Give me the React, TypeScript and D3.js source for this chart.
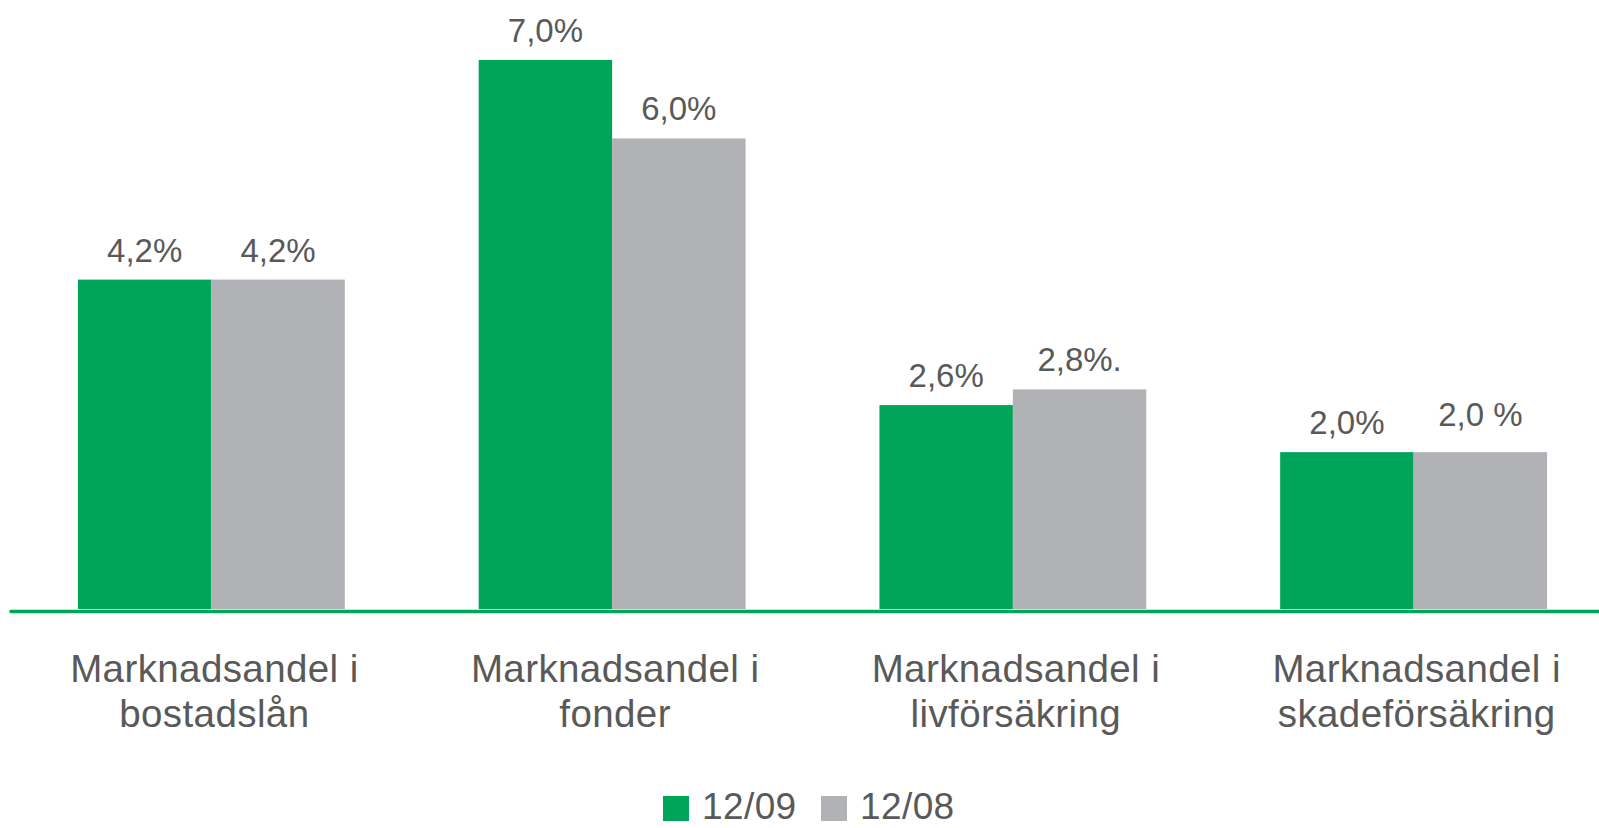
import React, { useRef, useEffect } from "react";
import * as d3 from "d3";

const categories = [
  ["Marknadsandel i", "bostadslån"],
  ["Marknadsandel i", "fonder"],
  ["Marknadsandel i", "livförsäkring"],
  ["Marknadsandel i", "skadeförsäkring"],
];
const seriesNames = ["12/09", "12/08"];
const values0912 = [4.2, 7.0, 2.6, 2.0];
const values0812 = [4.2, 6.0, 2.8, 2.0];
const labels0912 = ["4,2%", "7,0%", "2,6%", "2,0%"];
const labels0812 = ["4,2%", "6,0%", "2,8%.", "2,0 %"];

// small hand nudges the original had on a couple of labels
const labelLift: Record<string, number> = { "2,0 %": 8 };

const colors = ["#00a55a", "#b1b2b5"];
const textColor = "#595959";
const font = "'Liberation Sans', Arial, Helvetica, sans-serif";

const App = () => {
  const svgRef = useRef<SVGSVGElement>(null);

  useEffect(() => {
    const svg = d3.select(svgRef.current);
    svg.selectAll("*").remove();

    const width = 1599;
    const height = 828;
    const baseY = 609;

    const x0 = d3.scaleBand<number>()
      .domain(d3.range(categories.length))
      .range([11, 1614])
      .paddingInner(0.334)
      .paddingOuter(0.167);

    const x1 = d3.scaleBand<number>()
      .domain([0, 1])
      .range([0, x0.bandwidth()]);

    const y = d3.scaleLinear().domain([0, 7]).range([baseY, 60]);

    const series = [
      { name: seriesNames[0], values: values0912, labels: labels0912, color: colors[0] },
      { name: seriesNames[1], values: values0812, labels: labels0812, color: colors[1] },
    ];

    svg.attr("width", width).attr("height", height);

    series.forEach((s, si) => {
      const g = svg.append("g");
      g.selectAll("rect")
        .data(s.values)
        .join("rect")
        .attr("x", (_, i) => x0(i)! + x1(si)!)
        .attr("y", d => y(d))
        .attr("width", x1.bandwidth())
        .attr("height", d => baseY - y(d))
        .attr("fill", s.color);

      g.selectAll("text")
        .data(s.values)
        .join("text")
        .attr("x", (_, i) => x0(i)! + x1(si)! + x1.bandwidth() / 2)
        .attr("y", (d, i) => y(d) - 18 - (labelLift[s.labels[i]] || 0))
        .attr("text-anchor", "middle")
        .attr("font-family", font)
        .attr("font-size", 33)
        .attr("fill", textColor)
        .text((_, i) => s.labels[i]);
    });

    svg.append("line")
      .attr("x1", 11)
      .attr("x2", width + 5)
      .attr("y1", baseY + 2.5)
      .attr("y2", baseY + 2.5)
      .attr("stroke", colors[0])
      .attr("stroke-width", 3.5)
      .attr("stroke-linecap", "round");

    const cat = svg.append("g");
    categories.forEach((lines, i) => {
      const t = cat.append("text")
        .attr("text-anchor", "middle")
        .attr("font-family", font)
        .attr("font-size", 38.5)
        .attr("letter-spacing", 0.4)
        .attr("fill", textColor);
      lines.forEach((ln, li) => {
        t.append("tspan")
          .attr("x", x0(i)! + x0.bandwidth() / 2 + 3)
          .attr("y", 682 + li * 45)
          .text(ln);
      });
    });

    // legend sits right on the bottom edge, kept just inside it
    const legend = svg.append("g");
    const legendX = [663, 821];
    series.forEach((s, si) => {
      legend.append("rect")
        .attr("x", legendX[si])
        .attr("y", 796)
        .attr("width", 26)
        .attr("height", 25)
        .attr("fill", s.color);
      legend.append("text")
        .attr("x", legendX[si] + 39)
        .attr("y", 819)
        .attr("font-family", font)
        .attr("font-size", 37)
        .attr("letter-spacing", 0.4)
        .attr("fill", textColor)
        .text(s.name);
    });
  }, []);

  return (
    <div style={{ position: "absolute", left: 0, top: 0, width: 1599, height: 828, background: "#fff", overflow: "hidden" }}>
      <svg ref={svgRef} style={{ display: "block" }}></svg>
    </div>
  );
};

export default App;
